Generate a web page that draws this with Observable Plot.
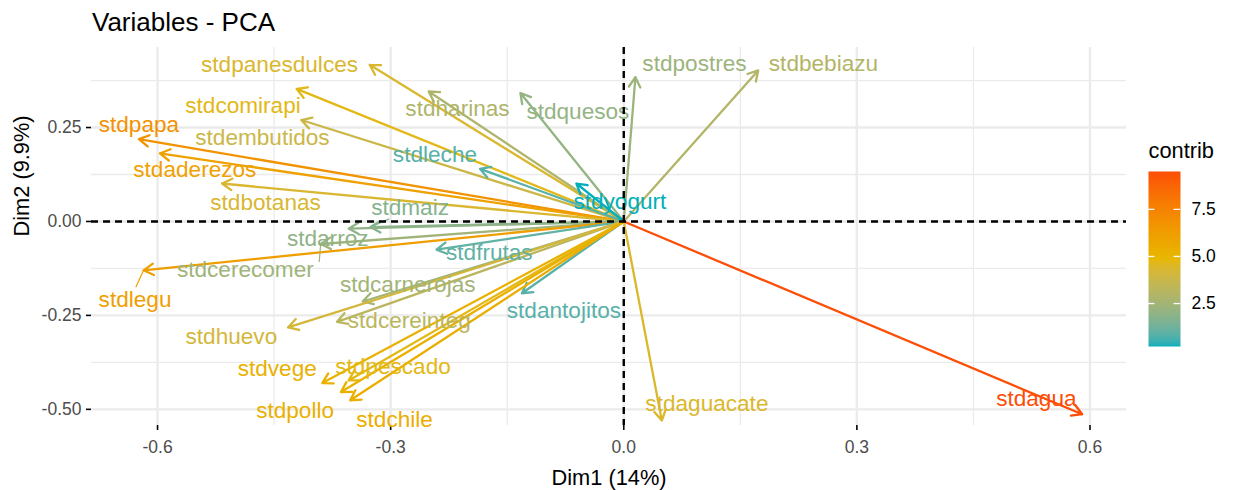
<!DOCTYPE html>
<html><head><meta charset="utf-8">
<script src="https://cdn.jsdelivr.net/npm/d3@7"></script>
<script src="https://cdn.jsdelivr.net/npm/@observablehq/plot@0.6"></script>
<style>
html,body{margin:0;padding:0;background:#fff;}
#wrap{position:relative;width:1238px;height:490px;font-family:"Liberation Sans",Arial,Helvetica,sans-serif;overflow:hidden;}
#title{position:absolute;left:92px;top:9px;font-size:26px;line-height:26px;color:#000;white-space:nowrap;}
#chart{position:absolute;left:0;top:0;}
#legend{position:absolute;left:1130px;top:120px;}
</style></head><body>
<div id="wrap"><div id="chart"></div><div id="title">Variables - PCA</div><div id="legend"></div></div>
<script>
// ---- data ----
const variables = ["stdpanesdulces","stdcomirapi","stdembutidos","stdpapa","stdaderezos","stdbotanas","stdharinas","stdquesos","stdleche","stdyogurt","stdmaiz","stdarroz","stdcerecomer","stdlegu","stdfrutas","stdcarnerojas","stdcereinteg","stdhuevo","stdantojitos","stdvege","stdpescado","stdpollo","stdchile","stdpostres","stdbebiazu","stdaguacate","stdagua"];
const dim1 = [-0.327,-0.421,-0.415,-0.624,-0.597,-0.517,-0.251,-0.133,-0.185,-0.061,-0.326,-0.354,-0.390,-0.618,-0.241,-0.336,-0.369,-0.432,-0.131,-0.388,-0.354,-0.364,-0.352,0.015,0.173,0.049,0.590];
const dim2 = [0.417,0.353,0.270,0.219,0.181,0.101,0.346,0.342,0.140,0.101,-0.015,-0.019,-0.060,-0.130,-0.075,-0.213,-0.267,-0.282,-0.191,-0.430,-0.423,-0.454,-0.476,0.384,0.402,-0.530,-0.513];
const contrib = [4.38,4.71,3.81,6.81,6.07,4.33,2.84,2.10,0.84,0.22,1.72,1.96,2.42,6.21,0.99,2.46,3.23,4.15,0.84,5.22,4.74,5.28,5.46,2.30,2.99,4.42,9.51];
// repelled label anchor points (data units)
const labelDim1 = [-0.443,-0.490,-0.465,-0.624,-0.552,-0.461,-0.214,-0.059,-0.243,-0.005,-0.275,-0.381,-0.487,-0.629,-0.173,-0.278,-0.276,-0.505,-0.077,-0.446,-0.297,-0.423,-0.295,0.091,0.257,0.107,0.531];
const labelDim2 = [0.418,0.309,0.223,0.258,0.138,0.051,0.301,0.293,0.178,0.053,0.036,-0.045,-0.128,-0.209,-0.084,-0.169,-0.263,-0.307,-0.238,-0.393,-0.386,-0.505,-0.527,0.420,0.420,-0.486,-0.472];
// label-side ends of the repel leader segments
const leaderVars = ["stdmaiz","stdcerecomer","stdlegu"];
const leaderDim1 = [-0.302,-0.392,-0.628];
const leaderDim2 = [0.007,-0.108,-0.175];
const xTicks = [-0.6,-0.3,0,0.3,0.6];
const xMinor = [-0.45,-0.15,0.15,0.45];
const yTicks = [-0.5,-0.25,0,0.25];
const yMinor = [-0.375,-0.125,0.125,0.375];
const legendTicks = [2.5,5,7.5];
const gradientColors = ["#00AFBB","#E7B800","#FC4E07"];
const xTitle = "Dim1 (14%)";
const yTitle = "Dim2 (9.9%)";
const legendTitle = "contrib";

// ---- build tables ----
const table = variables.map((name,i)=>({name, x:dim1[i], y:dim2[i], contrib:contrib[i], lx:labelDim1[i], ly:labelDim2[i]}));
const leaders = leaderVars.map((name,i)=>{const r = table.find(d=>d.name===name); return {name, x:r.x, y:r.y, contrib:r.contrib, lx:leaderDim1[i], ly:leaderDim2[i]};});
const cExtent = d3.extent(contrib);
const colorOpts = {type:"linear", domain:cExtent, interpolate:d3.piecewise(d3.interpolateLab, gradientColors)};
const font = '"Liberation Sans", Arial, Helvetica, sans-serif';

const chart = Plot.plot({
  width:1238, height:490, marginLeft:91, marginRight:112, marginTop:47, marginBottom:65,
  x:{domain:[-0.685,0.647]},
  y:{domain:[-0.543,0.463]},
  color:colorOpts,
  style:{fontFamily:font, background:"transparent", overflow:"visible"},
  marks:[
    Plot.ruleX(xMinor,{stroke:"#EBEBEB", strokeWidth:1.3}),
    Plot.ruleY(yMinor,{stroke:"#EBEBEB", strokeWidth:1.3}),
    Plot.ruleX(xTicks,{stroke:"#EBEBEB", strokeWidth:2.4}),
    Plot.ruleY(yTicks,{stroke:"#EBEBEB", strokeWidth:2.4}),
    Plot.axisX(xTicks,{tickSize:5, tickPadding:10, stroke:"black", strokeWidth:1.6, fill:"#4D4D4D", fontSize:17.5, tickFormat:d=>d.toFixed(1), label:null}),
    Plot.axisY(yTicks,{tickSize:5, tickPadding:5, stroke:"black", strokeWidth:1.6, fill:"#4D4D4D", fontSize:17.5, tickFormat:d=>d.toFixed(2), label:null}),
    Plot.arrow(table,{x1:()=>0, y1:()=>0, x2:"x", y2:"y", stroke:"contrib", strokeWidth:2.3, headLength:7.4, headAngle:60}),
    Plot.link(leaders,{x1:"lx", y1:"ly", x2:"x", y2:"y", stroke:"contrib", strokeWidth:1.2}),
    Plot.text(table,{x:"lx", y:"ly", text:"name", fill:"contrib", fontSize:22.6}),
    Plot.ruleX([0],{stroke:"black", strokeWidth:2.4, strokeDasharray:"7,5"}),
    Plot.ruleY([0],{stroke:"black", strokeWidth:2.4, strokeDasharray:"7,5"}),
    Plot.text([xTitle],{frameAnchor:"bottom", lineAnchor:"middle", dy:53, fontSize:21.8, fill:"black"}),
    Plot.text([yTitle],{frameAnchor:"left", lineAnchor:"middle", rotate:-90, dx:-69, fontSize:21.8, fill:"black"})
  ]
});
document.getElementById("chart").append(chart);

const legend = Plot.plot({
  width:108, height:240, marginTop:51, marginBottom:14, marginLeft:18, marginRight:58,
  x:{domain:[0,1], axis:null},
  y:{domain:cExtent, axis:null},
  color:colorOpts,
  style:{fontFamily:font, background:"transparent", overflow:"visible"},
  marks:[
    Plot.raster({x1:0, x2:1, y1:cExtent[0], y2:cExtent[1], width:1, height:300, fill:(x,y)=>y}),
    Plot.ruleY(legendTicks,{x1:0, x2:0.2, stroke:"white", strokeWidth:1.3}),
    Plot.ruleY(legendTicks,{x1:0.8, x2:1, stroke:"white", strokeWidth:1.3}),
    Plot.axisY(legendTicks,{anchor:"right", tickSize:0, tickPadding:11, fontSize:17.5, fill:"black", tickFormat:d=>d.toFixed(1), label:null}),
    Plot.text([legendTitle],{frameAnchor:"top-left", textAnchor:"start", lineAnchor:"middle", dy:-20, fontSize:21.8, fill:"black"})
  ]
});
document.getElementById("legend").append(legend);
</script>
</body></html>
